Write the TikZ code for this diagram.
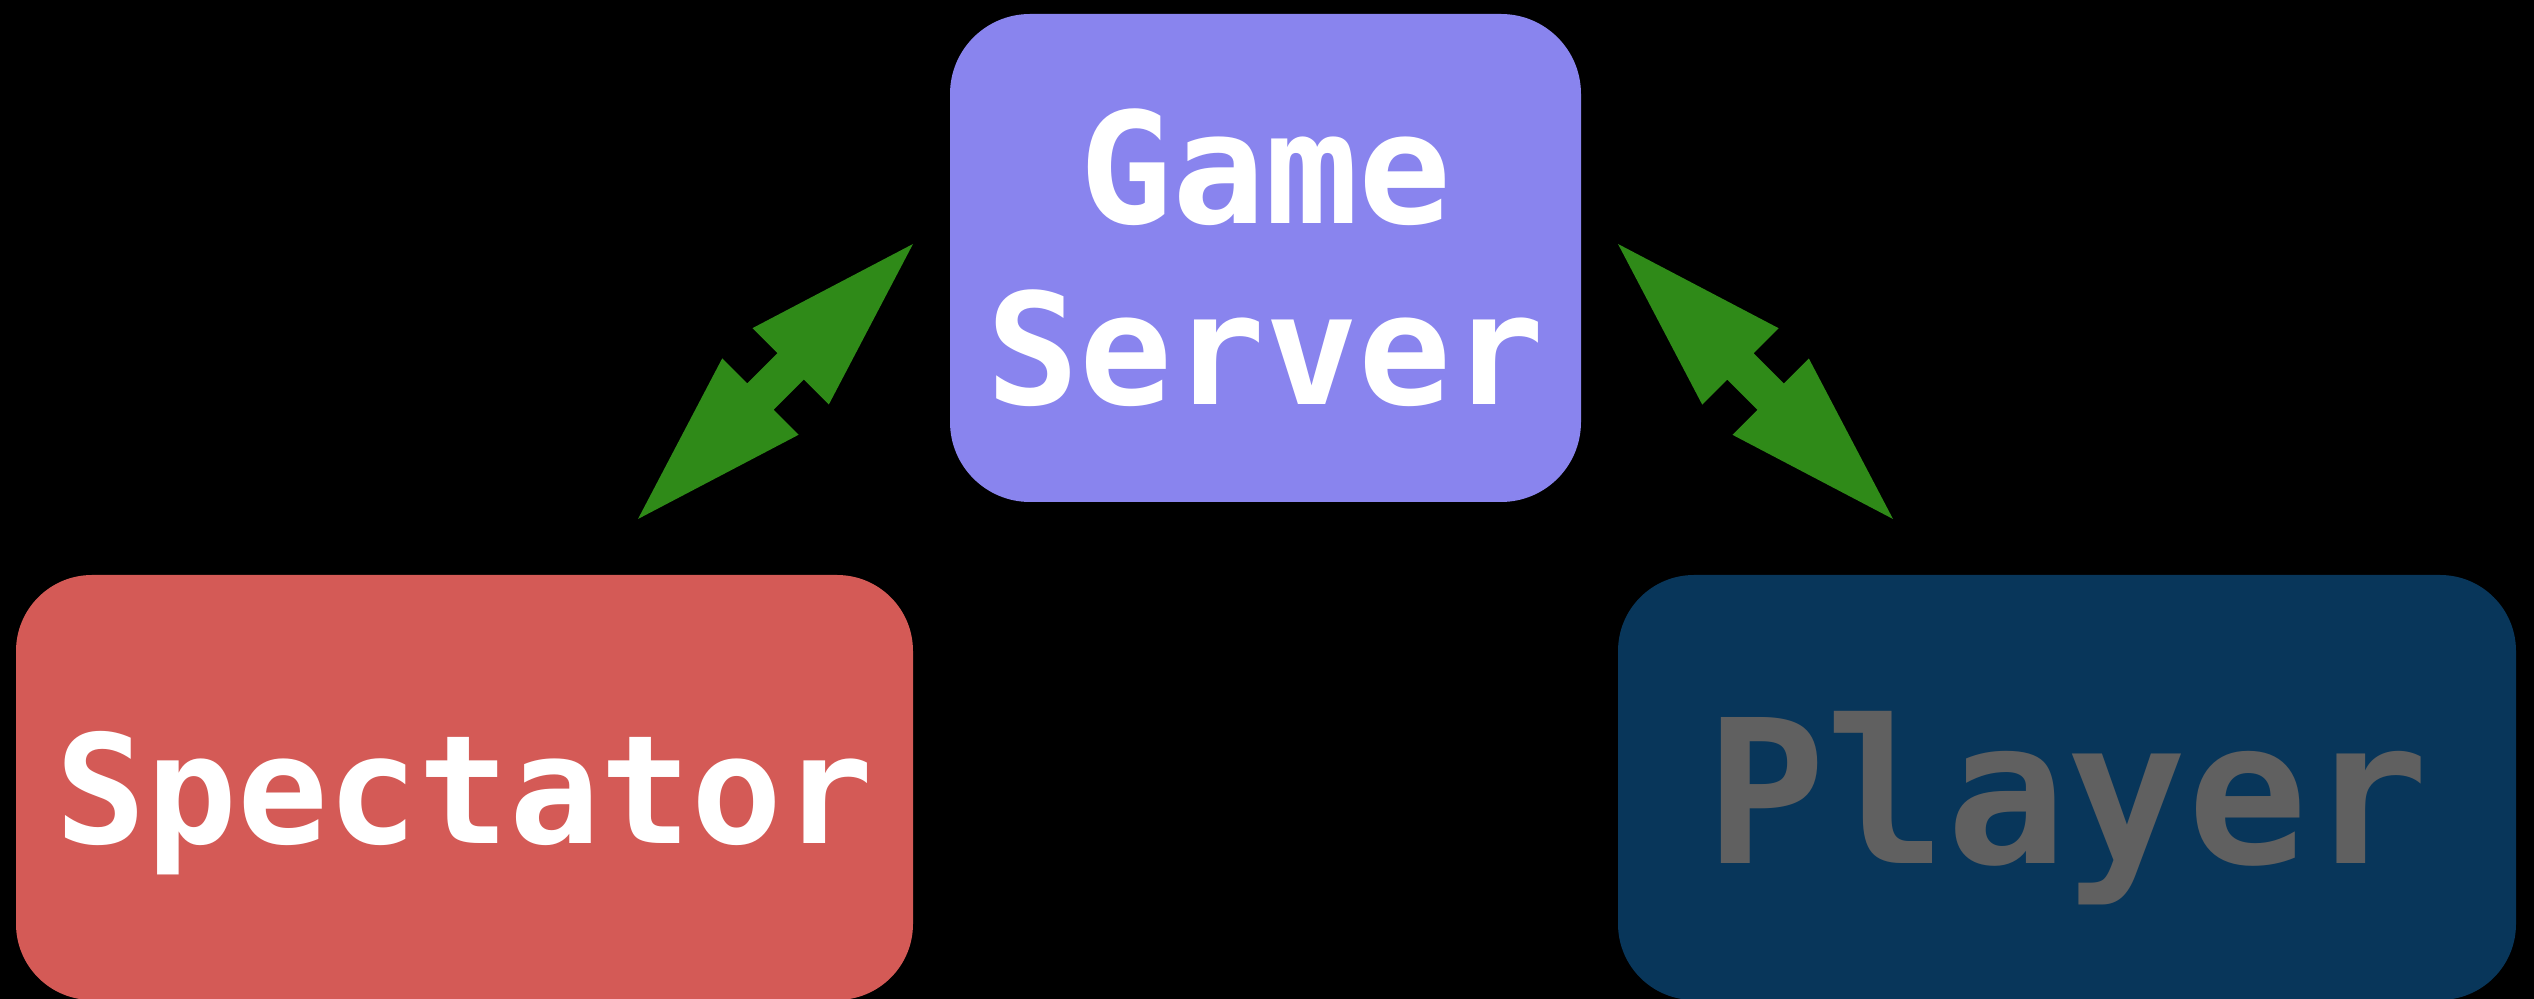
\documentclass[tikz,border=0pt]{standalone}
\usepackage{fontspec}
\setmonofont{DejaVu Sans Mono}
\usetikzlibrary{calc}
\definecolor{serverblue}{RGB}{137,132,238}
\definecolor{spectatorred}{RGB}{212,90,86}
\definecolor{playernavy}{RGB}{8,54,90}
\definecolor{playergrey}{RGB}{96,96,96}
\definecolor{arrowgreen}{RGB}{47,138,24}
% two-headed fat arrow from tip (#1) to tip (#2)
\def\fatarrow(#1)(#2){\fill[arrowgreen] (#1)
	-- ($(#1)!0.445!(#2)!5.4mm!90:(#2)$) -- ($(#1)!0.445!(#2)!1.87mm!90:(#2)$)
	-- ($(#1)!0.555!(#2)!1.87mm!90:(#2)$) -- ($(#1)!0.555!(#2)!5.4mm!90:(#2)$)
	-- (#2)
	-- ($(#1)!0.555!(#2)!5.4mm!-90:(#2)$) -- ($(#1)!0.555!(#2)!1.87mm!-90:(#2)$)
	-- ($(#1)!0.445!(#2)!1.87mm!-90:(#2)$) -- ($(#1)!0.445!(#2)!5.4mm!-90:(#2)$)
	-- cycle;}
\tikzset{
	box/.style={rounded corners=7.6mm, inner sep=0pt, outer sep=0pt,
		font=\ttfamily\bfseries, align=center},
}

\begin{document}
\begin{tikzpicture}[x=0.1mm, y=-0.1mm]
			%%%%% START %%%%%
			\useasboundingbox (0, 0) rectangle (2534, 999);
			\fill[black] (0, 0) rectangle (2534, 999);
			\clip (0, 0) rectangle (2534, 999);
			
			\node[box, fill=serverblue, text=white, minimum width=63.1mm, minimum height=48.8mm,
				rounded corners=8mm, font=\fontsize{44pt}{51.5pt}\selectfont\ttfamily\bfseries]
				(server) at (1265.5, 258) {Game\\Server};
			
			\node[box, fill=spectatorred, text=white, minimum width=89.7mm, minimum height=42.5mm,
				text depth=0pt, font=\fontsize{43pt}{50pt}\selectfont\ttfamily\bfseries]
				(spectator) at (464.5, 787.5) {Spectator};
			
			\node[box, fill=playernavy, text=playergrey, minimum width=89.8mm, minimum height=42.5mm,
				text depth=0pt, font=\fontsize{57pt}{66pt}\selectfont\ttfamily\bfseries]
				(player) at (2067, 787.5) {Player};
			
			\coordinate (specTip) at (638, 519);
			\coordinate (serverTipL) at (913, 244);
			\coordinate (serverTipR) at (1618, 244);
			\coordinate (playerTip) at (1893, 519);
			
			\fatarrow(specTip)(serverTipL);
			\fatarrow(serverTipR)(playerTip);
			%%%%% END %%%%%
		\end{tikzpicture}
\end{document}
